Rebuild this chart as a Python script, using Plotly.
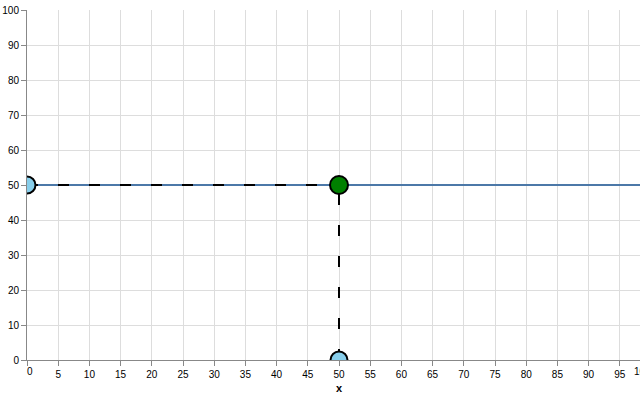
import plotly.graph_objects as go

# data
line_x = [0, 100]
line_y = [50, 50]
guide_h_x = [0, 50]
guide_h_y = [50, 50]
guide_v_x = [50, 50]
guide_v_y = [0, 50]
point_x = [50]
point_y = [50]
handle_x = [0, 50]
handle_y = [50, 0]
x_ticks = list(range(0, 101, 5))
y_ticks = list(range(0, 101, 10))

W, H = 640, 400
L, R, T, B = 27, 0, 10, 40
plot_w = 624  # pixel width of 0..100 span
x_max_visible = 100 * (W - L - R) / plot_w
FONT = "Liberation Sans, Arial"

fig = go.Figure()
fig.add_trace(go.Scatter(x=line_x, y=line_y, mode="lines",
                         line=dict(color="#4c78a8", width=2), hoverinfo="skip"))
for gx, gy in ((guide_h_x, guide_h_y), (guide_v_x, guide_v_y)):
    fig.add_trace(go.Scatter(x=gx, y=gy, mode="lines",
                             line=dict(color="black", width=2, dash="11px,20px"), hoverinfo="skip"))
fig.add_trace(go.Scatter(x=handle_x, y=handle_y, mode="markers",
                         marker=dict(size=17, color="#87ceeb", line=dict(color="black", width=2))))
fig.add_trace(go.Scatter(x=point_x, y=point_y, mode="markers",
                         marker=dict(size=18, color="#008000", line=dict(color="black", width=2))))

axis_common = dict(showgrid=True, gridcolor="#dddddd", gridwidth=1,
                   showline=True, linecolor="#888888", linewidth=1,
                   ticks="outside", ticklen=5, tickcolor="#888888",
                   zeroline=False, automargin=False,
                   tickfont=dict(family=FONT, size=10, color="black"))

vis_x_ticks = x_ticks[:-1]
x_ticktext = [""] + [str(v) for v in vis_x_ticks[1:]]

fig.update_layout(
    width=W, height=H,
    margin=dict(l=L, r=R, t=T, b=B),
    plot_bgcolor="white", paper_bgcolor="white",
    showlegend=False,
    xaxis=dict(range=[0, x_max_visible], tickvals=vis_x_ticks, ticktext=x_ticktext, **axis_common),
    yaxis=dict(range=[0, 100], tickvals=y_ticks, **axis_common),
)
# flush first/last x labels
fig.add_annotation(x=x_ticks[0] / x_max_visible, y=0, xref="paper", yref="paper",
                   text=str(x_ticks[0]), showarrow=False, xanchor="left", yanchor="top",
                   yshift=-4, xshift=-2,
                   font=dict(family=FONT, size=10, color="black"))
fig.add_annotation(x=x_ticks[-1] / x_max_visible, y=0, xref="paper", yref="paper",
                   text=str(x_ticks[-1]), showarrow=False, xanchor="right", yanchor="top",
                   yshift=-4, xshift=2,
                   font=dict(family=FONT, size=10, color="black"))
fig.add_annotation(x=50 / x_max_visible, y=0, xref="paper", yref="paper",
                   text="<b>x</b>", showarrow=False, yanchor="top", yshift=-20,
                   font=dict(family=FONT, size=11, color="black"))

fig.write_html("out.html", config={"displayModeBar": False},
               post_script="document.body.style.margin='0';document.body.style.overflow='hidden';")
